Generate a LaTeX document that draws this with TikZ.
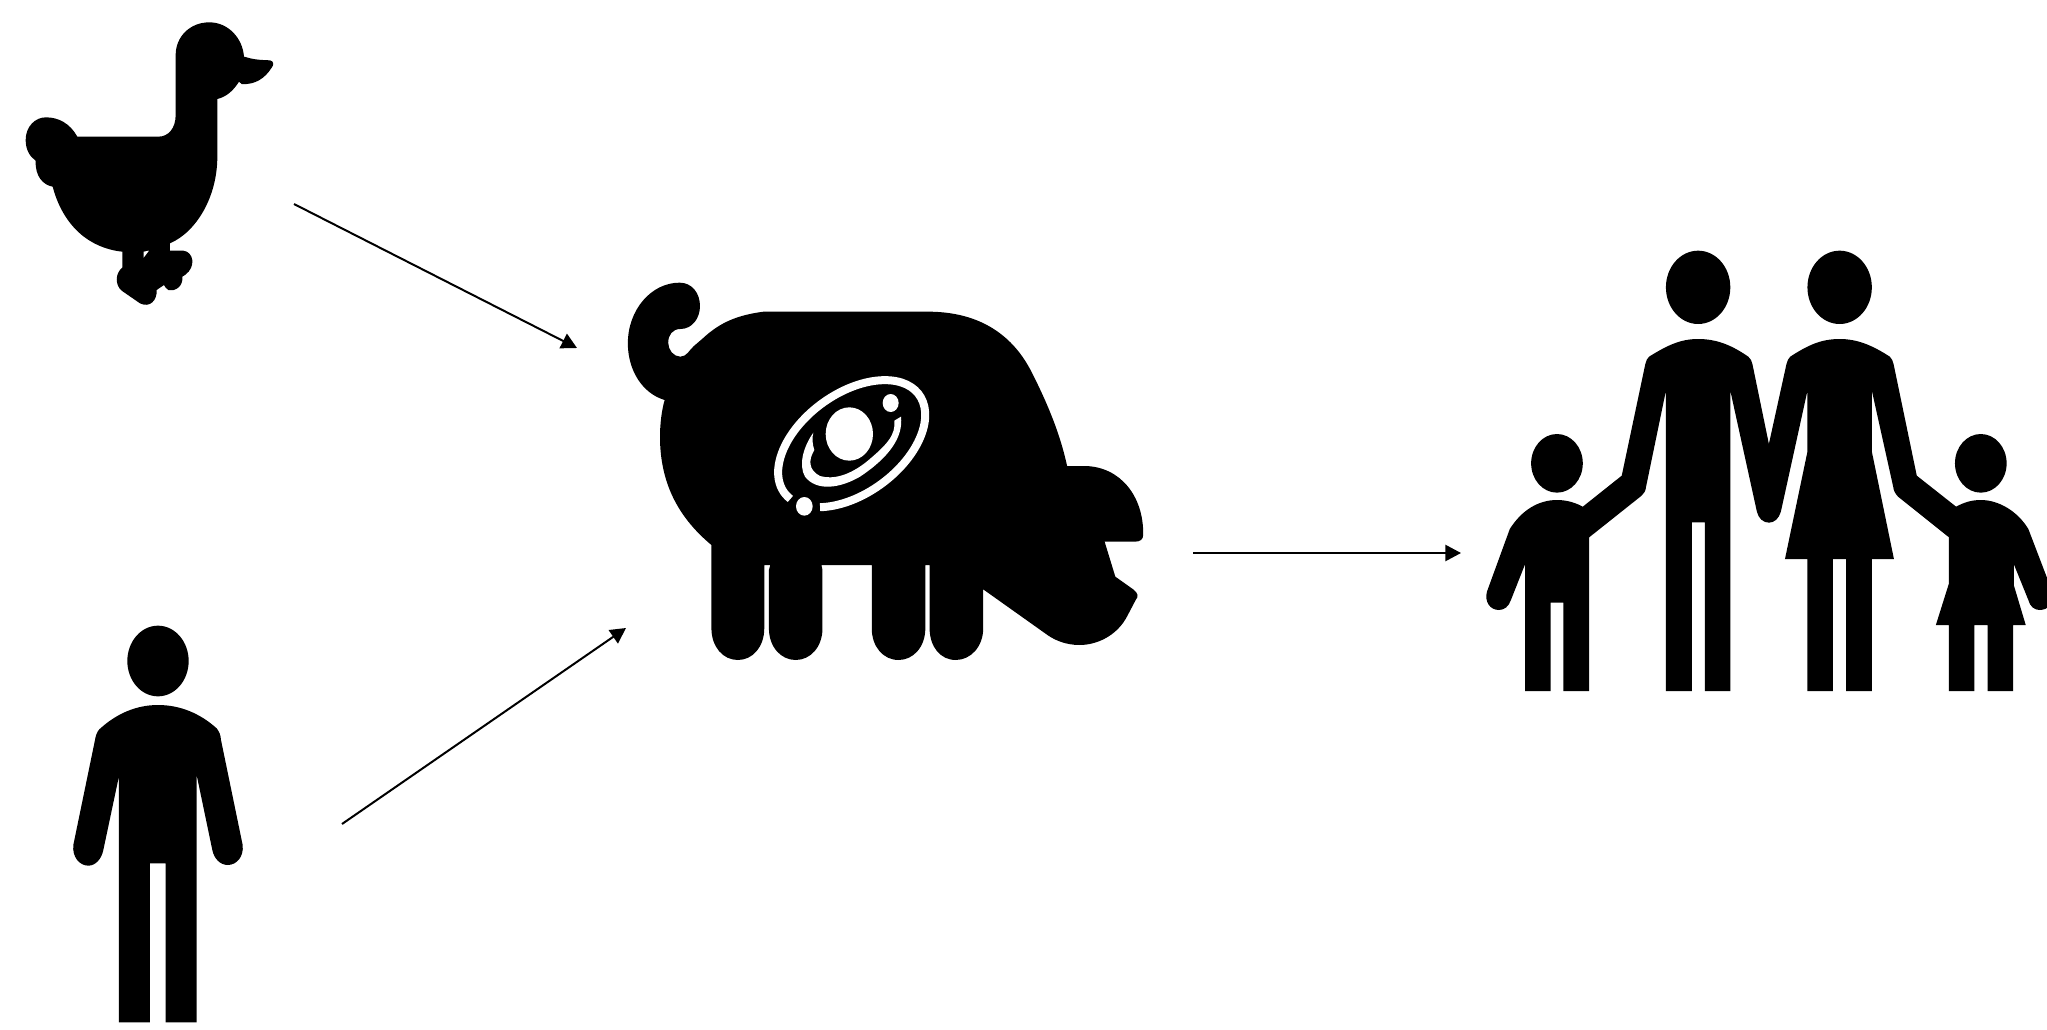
\documentclass[tikz,border=0pt]{standalone}
\usepackage{tikz}
\usetikzlibrary{arrows.meta}
\tikzset{
  silhouette/.style={fill=black, draw=none},
  cutout/.style={fill=white, draw=none},
  arrow/.style={line width=0.02cm, -{Triangle[length=0.155cm, width=0.16cm]}}
}

\begin{document}
\begin{tikzpicture}[x=0.01cm, y=-0.01cm,
            ringline/.style={draw=white, line width=0.08cm}
        ]

            \clip (0,0) rectangle (2047,1030);

            % Ganso
            \begin{scope}[scale=1/3]
                \fill[silhouette] (232,410) -- (475,410) .. controls (505,410) and (527,385) .. (527,345) -- (527,165)
                    .. controls (527,110) and (570,67) .. (628,67) .. controls (685,67) and (728,115) .. (732,170)
                    -- (740,172) .. controls (765,180) and (790,180) .. (810,181) .. controls (822,183) and (822,195) .. (815,203)
                    .. controls (795,235) and (765,255) .. (725,252) -- (717,245) .. controls (700,272) and (680,290) .. (652,297)
                    -- (652,470) .. controls (652,590) and (590,695) .. (510,730) -- (510,752) -- (550,752)
                    .. controls (580,755) and (590,800) .. (555,825) -- (547,830) .. controls (550,860) and (525,875) .. (505,870)
                    .. controls (497,865) and (495,860) .. (492,855) -- (470,870) .. controls (472,900) and (450,925) .. (420,910)
                    -- (365,872) .. controls (345,855) and (345,820) .. (367,803) -- (367,755)
                    .. controls (270,745) and (190,680) .. (158,560) .. controls (130,555) and (105,530) .. (107,482)
                    .. controls (90,470) and (77,450) .. (77,420) .. controls (77,380) and (105,352) .. (138,352)
                    .. controls (175,352) and (210,370) .. (232,410) -- cycle;
                \fill[cutout] (431,773) -- (431,755) -- (447,752) -- cycle;
            \end{scope}

            % Persona
            \begin{scope}[shift={(50,600)}, scale=1/3]
                \fill[silhouette] (324,183) ellipse [x radius=92, y radius=106];
                \fill[silhouette] (148,388) .. controls (200,340) and (260,315) .. (324,315) .. controls (390,315) and (450,340) .. (500,385)
                    .. controls (508,395) and (512,405) .. (513,420) -- (578,735) .. controls (582,770) and (560,795) .. (533,795)
                    .. controls (510,795) and (492,775) .. (487,750) -- (440,525) -- (440,1267) -- (347,1267) -- (347,790) -- (300,790)
                    -- (300,1267) -- (207,1267) -- (207,528) -- (160,750) .. controls (155,775) and (138,797) .. (115,797)
                    .. controls (88,797) and (66,770) .. (70,735) -- (135,420) .. controls (137,408) and (140,397) .. (148,388) -- cycle;
            \end{scope}

            % Cerdo
            \begin{scope}[shift={(610,260)}, xscale=1/2.8, yscale=1/3]
                \fill[silhouette] (430,155) -- (890,155) .. controls (1040,155) and (1130,230) .. (1180,335)
                    .. controls (1225,430) and (1260,520) .. (1280,618) -- (1330,618) .. controls (1430,620) and (1495,710) .. (1493,825)
                    .. controls (1493,838) and (1485,845) .. (1470,845) -- (1385,845) -- (1415,950) -- (1465,988)
                    .. controls (1480,1000) and (1480,1010) .. (1472,1020) -- (1450,1065) .. controls (1420,1130) and (1360,1155) .. (1315,1155)
                    .. controls (1275,1155) and (1245,1140) .. (1225,1125) -- (1045,988) -- (1045,1105)
                    .. controls (1045,1160) and (1010,1200) .. (968,1200) .. controls (925,1200) and (895,1160) .. (895,1105) -- (895,915) -- (883,915) -- (883,1105)
                    .. controls (883,1160) and (850,1200) .. (808,1200) .. controls (765,1200) and (733,1160) .. (733,1105) -- (733,915) -- (592,915) -- (595,930) -- (595,1105)
                    .. controls (595,1160) and (562,1200) .. (520,1200) .. controls (478,1200) and (445,1160) .. (445,1105) -- (445,930) -- (449,915) -- (432,915) -- (432,1105)
                    .. controls (432,1160) and (400,1200) .. (358,1200) .. controls (316,1200) and (284,1160) .. (284,1105) -- (284,855)
                    .. controls (200,780) and (140,680) .. (140,530) .. controls (140,490) and (145,450) .. (153,420)
                    .. controls (90,400) and (50,330) .. (50,250) .. controls (50,150) and (115,68) .. (195,68)
                    .. controls (230,68) and (252,100) .. (252,138) .. controls (252,175) and (230,207) .. (197,207)
                    .. controls (175,207) and (163,225) .. (163,248) .. controls (163,270) and (178,290) .. (197,290)
                    .. controls (215,290) and (222,270) .. (235,258) -- (260,235) .. controls (310,185) and (360,165) .. (430,155) -- cycle;
            \end{scope}

            % Orbitas sobre el cerdo
            \begin{scope}[shift={(760,370)}, scale=1/3]
                \draw[ringline, shift={(275,221)}, rotate=36] (-221:250 and 150) arc [start angle=-221, end angle=-550, x radius=250, y radius=150];
                \fill[cutout] (423,140) .. controls (430,200) and (390,260) .. (300,320) .. controls (240,355) and (170,365) .. (135,320)
                    .. controls (115,285) and (130,230) .. (160,188) .. controls (155,205) and (158,225) .. (163,240)
                    .. controls (145,270) and (145,300) .. (180,318) .. controls (220,330) and (270,315) .. (320,275)
                    .. controls (380,225) and (408,195) .. (403,152) -- cycle;
                \fill[cutout] (268,192) ellipse [x radius=71, y radius=80];
                \fill[cutout] (392,99) ellipse [x radius=24, y radius=27];
                \fill[cutout] (133,409) ellipse [x radius=25, y radius=28];
            \end{scope}

            % Familia
            \begin{scope}[shift={(1460,230)}, xscale=1/2.671, yscale=1/3]
                \fill[silhouette] (636,172) ellipse [x radius=86, y radius=110];
                \fill[silhouette] (1014,172) ellipse [x radius=86, y radius=110];
                \fill[silhouette] (259,700) ellipse [x radius=69, y radius=88];
                \fill[silhouette] (1391,700) ellipse [x radius=69, y radius=88];
                \fill[silhouette] (133,897) .. controls (165,840) and (210,810) .. (259,810) .. controls (285,810) and (308,818) .. (328,830)
                    -- (432,737) -- (495,402) .. controls (497,392) and (500,385) .. (505,380) .. controls (555,345) and (590,327) .. (636,327)
                    .. controls (685,327) and (725,345) .. (770,380) .. controls (776,386) and (779,392) .. (781,402) -- (825,642)
                    -- (872,402) .. controls (874,392) and (877,386) .. (882,380) .. controls (930,345) and (965,327) .. (1014,327)
                    .. controls (1060,327) and (1100,345) .. (1148,380) .. controls (1153,386) and (1156,392) .. (1158,402)
                    -- (1220,737) -- (1325,830) .. controls (1345,818) and (1365,810) .. (1391,810) .. controls (1440,810) and (1490,845) .. (1518,897)
                    -- (1582,1085) .. controls (1590,1120) and (1570,1140) .. (1548,1140) .. controls (1535,1140) and (1522,1130) .. (1518,1110)
                    -- (1479,1002) -- (1479,1065) -- (1511,1185) -- (1477,1185) -- (1477,1383) -- (1409,1383) -- (1409,1185) -- (1374,1185)
                    -- (1374,1383) -- (1306,1383) -- (1306,1185) -- (1271,1185) -- (1306,1060) -- (1306,922) -- (1170,800)
                    .. controls (1162,790) and (1158,782) .. (1157,770) -- (1100,482) -- (1100,665) -- (1159,987) -- (1100,987)
                    -- (1100,1383) -- (1031,1383) -- (1031,987) -- (996,987) -- (996,1383) -- (928,1383) -- (928,987) -- (868,987)
                    -- (928,665) -- (928,482) -- (857,845) .. controls (852,865) and (840,878) .. (825,878) .. controls (810,878) and (797,865) .. (793,845)
                    -- (722,482) -- (722,1383) -- (654,1383) -- (654,877) -- (619,877) -- (619,1383) -- (550,1383) -- (550,482) -- (497,770)
                    .. controls (496,782) and (492,790) .. (485,797) -- (345,922) -- (345,1383) -- (276,1383) -- (276,1118) -- (242,1118)
                    -- (242,1383) -- (174,1383) -- (174,1002) -- (136,1110) .. controls (130,1130) and (118,1140) .. (104,1140)
                    .. controls (80,1140) and (65,1115) .. (72,1085) -- cycle;
            \end{scope}

            % Extremos de las flechas
            \coordinate (gooseout) at (294,204);
            \coordinate (gooseend) at (577,348);
            \coordinate (personout) at (342,824);
            \coordinate (personend) at (626,628);
            \coordinate (pigout) at (1193,553);
            \coordinate (familyin) at (1461,553);

            % Conexiones (Flechas)
            \draw [arrow] (gooseout) -- (gooseend);
            \draw [arrow] (personout) -- (personend);
            \draw [arrow] (pigout) -- (familyin);

        \end{tikzpicture}
\end{document}
